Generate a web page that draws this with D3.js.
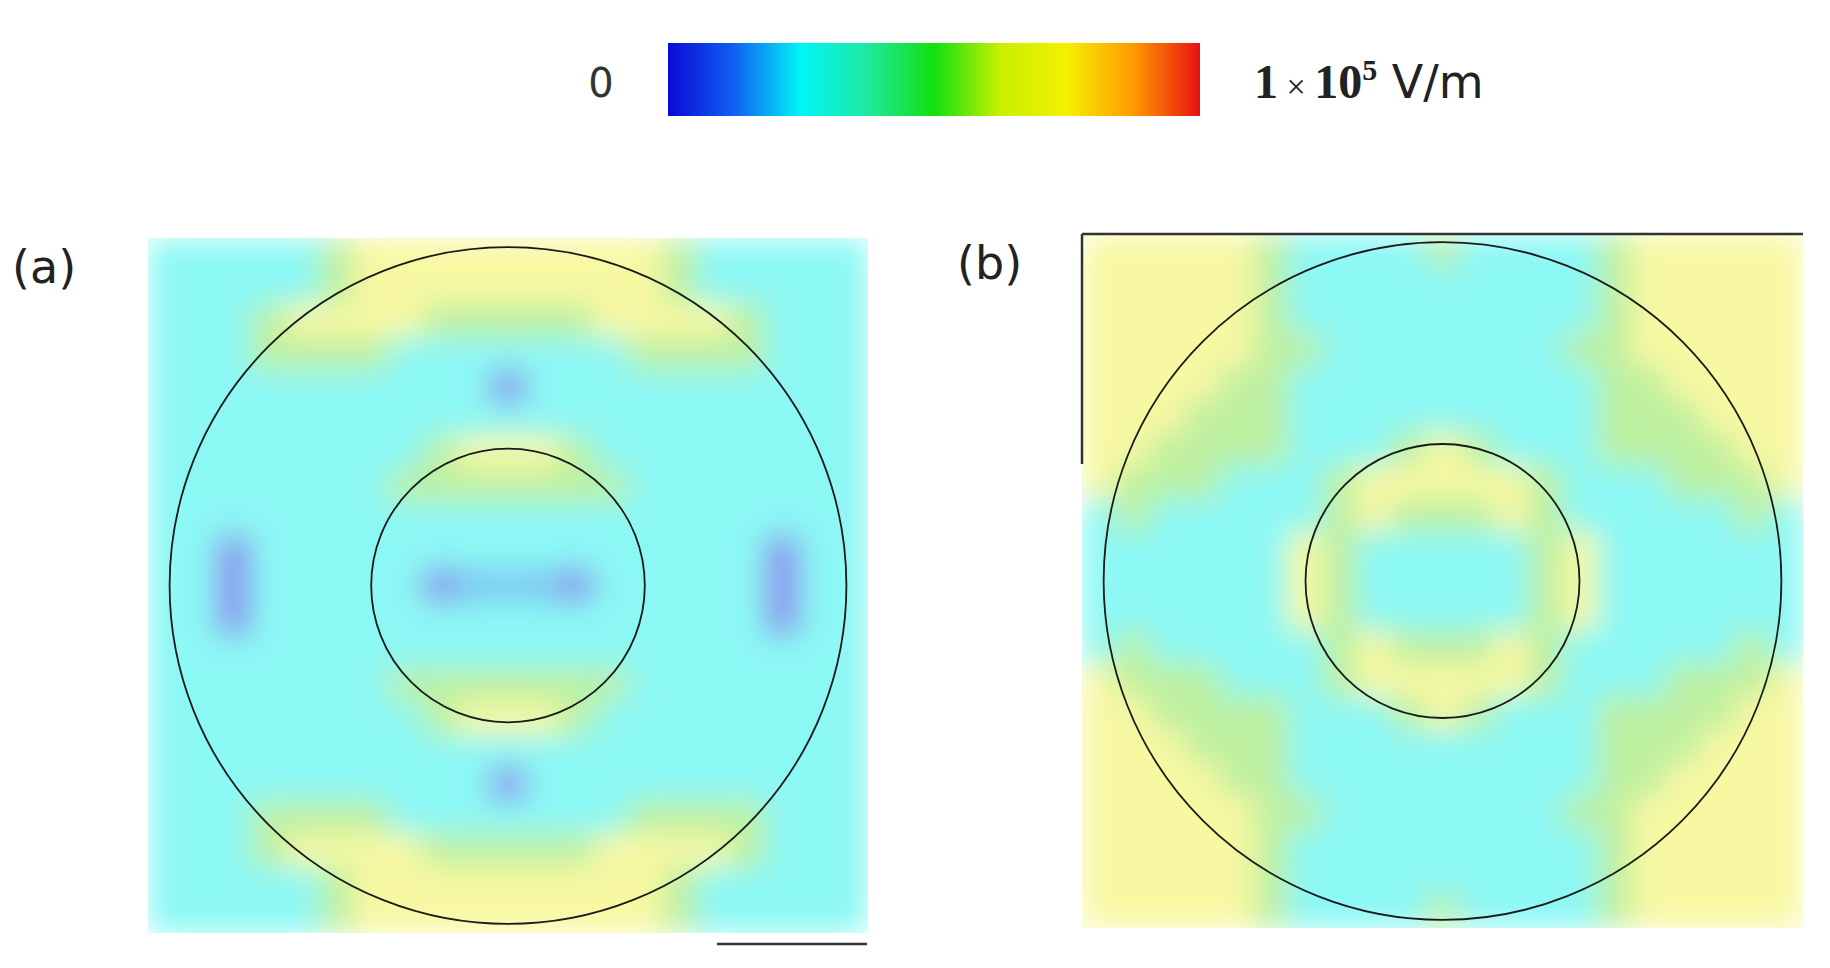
<!DOCTYPE html>
<html><head><meta charset="utf-8">
<script src="https://cdn.jsdelivr.net/npm/d3@7"></script>
<style>body{margin:0;background:#fff;}</style>
</head><body>
<script>
// field level maps, 21x21, top half rows (mirrored below the middle row)
const levelColors = {c: '#8cf8f4', g: '#bdf0a0', y: '#f8f8a2', b: '#8c8cee', l: '#7fc8f2'};
const panelAHalf = [
    'cccccgyyyyyyyyygccccc',
    'cccccgyyyyyyyyygccccc',
    'cccgyyyygggggyyyygccc',
    'cccggggcccccccggggccc',
    'ccccccccccbcccccccccc',
    'ccccccccccccccccccccc',
    'ccccccccgyyygcccccccc',
    'cccccccgggggggccccccc',
    'ccccccccccccccccccccc',
    'ccbcccccccccccccccbcc',
    'ccbcccccblllbcccccbcc'
];
const panelBHalf = [
    'yyyyygccccgccccgyyyyy',
    'yyyyygcccccccccgyyyyy',
    'yyyyygcccccccccgyyyyy',
    'yyyyyggcccccccggyyyyy',
    'yyyyggcccccccccggyyyy',
    'yyygggcccccccccgggyyy',
    'yyggggcccgygcccggggyy',
    'ygggcccgyyyyygcccgggy',
    'cgcccccgygggygcccccgc',
    'ccccccygcccccgycccccc',
    'ccccccygcccccgycccccc'
];
const colorbarStops = ['#0a0ad6', '#1060f2', '#00f6f6', '#20e8a0', '#10e010', '#c8f000', '#f4f000', '#ff9a00', '#e81010'];
const panelLabels = ['(a)', '(b)'];
const ringRadii = [0.47, 0.19]; // fraction of panel width

const W = 1830, H = 968;
const svg = d3.select('body').append('svg').attr('width', W).attr('height', H);
const defs = svg.append('defs');

const mirror = half => half.concat(half.slice(0, half.length - 1).reverse());

const blur = defs.append('filter').attr('id', 'blur')
    .attr('x', 0).attr('y', 0).attr('width', 1).attr('height', 1);
blur.append('feGaussianBlur').attr('stdDeviation', 15).attr('edgeMode', 'duplicate');

const panels = [
    {grid: mirror(panelAHalf), x: 148, y: 238, w: 720, h: 695, label: panelLabels[0], lx: 12, ly: 283},
    {grid: mirror(panelBHalf), x: 1082, y: 234, w: 721, h: 694, label: panelLabels[1], lx: 957, ly: 279}
];

panels.forEach((p, k) => {
    const n = p.grid.length;
    const xs = d3.scaleBand().domain(d3.range(n)).range([p.x, p.x + p.w]);
    const ys = d3.scaleBand().domain(d3.range(n)).range([p.y, p.y + p.h]);
    const cells = p.grid.flatMap((row, i) => row.split('').map((v, j) => ({i, j, v})));

    defs.append('clipPath').attr('id', 'clip' + k)
        .append('rect').attr('x', p.x).attr('y', p.y).attr('width', p.w).attr('height', p.h);

    svg.append('g').attr('clip-path', `url(#clip${k})`)
        .append('g').attr('filter', 'url(#blur)')
        .selectAll('rect').data(cells).join('rect')
        .attr('x', d => xs(d.j)).attr('y', d => ys(d.i))
        .attr('width', xs.bandwidth() + 1).attr('height', ys.bandwidth() + 1)
        .attr('fill', d => levelColors[d.v]);

    const sx = d3.scaleLinear().domain([0, 1]).range([p.x, p.x + p.w]);
    const sy = d3.scaleLinear().domain([0, 1]).range([p.y, p.y + p.h]);
    svg.append('g').selectAll('circle').data(ringRadii).join('circle')
        .attr('cx', sx(0.5)).attr('cy', sy(0.5))
        .attr('r', d => sx(d) - sx(0))
        .attr('fill', 'none').attr('stroke', '#1a1a1a').attr('stroke-width', 1.8);

    svg.append('text').attr('x', p.lx).attr('y', p.ly)
        .attr('font-family', 'DejaVu Sans, sans-serif').attr('font-size', 46)
        .attr('fill', '#222').text(p.label);
});

// stray frame edges
const frameLines = [[717, 944, 867, 944], [1082, 234, 1803, 234], [1082, 234, 1082, 464]];
svg.append('g').selectAll('line').data(frameLines).join('line')
    .attr('x1', d => d[0]).attr('y1', d => d[1]).attr('x2', d => d[2]).attr('y2', d => d[3])
    .attr('stroke', '#333').attr('stroke-width', 2.5);

// colorbar
const grad = defs.append('linearGradient').attr('id', 'jet');
grad.selectAll('stop').data(colorbarStops).join('stop')
    .attr('offset', (d, i) => i / (colorbarStops.length - 1))
    .attr('stop-color', d => d);
svg.append('rect').attr('x', 668).attr('y', 43).attr('width', 532).attr('height', 73)
    .attr('fill', 'url(#jet)');

svg.append('text').attr('x', 601).attr('y', 97).attr('text-anchor', 'middle')
    .attr('font-family', 'DejaVu Sans, sans-serif').attr('font-size', 40).attr('fill', '#333').text('0');

const unit = svg.append('text').attr('x', 1254).attr('y', 98)
    .attr('font-size', 48).attr('fill', '#222');
unit.append('tspan').attr('font-family', 'Liberation Serif, serif').attr('font-weight', 'bold').text('1');
unit.append('tspan').attr('font-family', 'Liberation Serif, serif').attr('font-size', 34).text(' × ');
unit.append('tspan').attr('font-family', 'Liberation Serif, serif').attr('font-weight', 'bold').text('10');
unit.append('tspan').attr('font-family', 'Liberation Serif, serif').attr('font-weight', 'bold')
    .attr('font-size', 30).attr('dy', -18).text('5');
unit.append('tspan').attr('font-family', 'DejaVu Sans, sans-serif').attr('font-size', 46).attr('dy', 18).text(' V/m');
</script>
</body></html>
